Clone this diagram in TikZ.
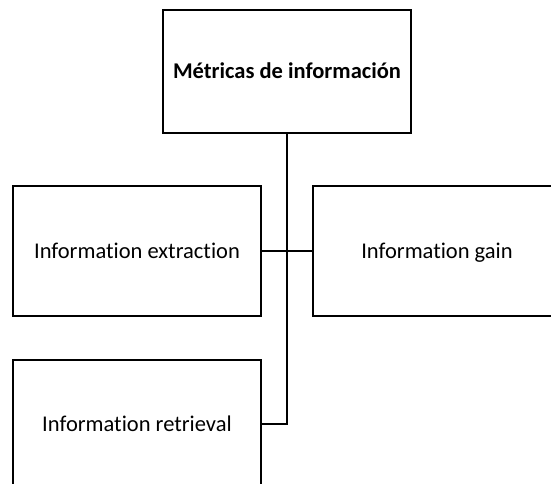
\documentclass[tikz,border=0pt]{standalone}
\usepackage{fontspec}
\setmainfont{Carlito}[Ligatures=NoCommon]
\begin{document}
\begin{tikzpicture}[
    x=1pt, y=-1pt,
    box/.style = {draw, line width=1.4pt, minimum width=248pt, inner sep=0pt,
                  text height=14.5pt, text depth=0pt, font=\fontsize{22.5}{26}\selectfont},
    link/.style = {line width=1.6pt}
]
\useasboundingbox (0,0) rectangle (551,483);
\node[box, minimum height=123pt, font=\fontsize{22.5}{26}\selectfont\bfseries] (metricas) at (287,71.5) {Métricas de información};
\node[box, minimum height=130pt] (extraction) at (137,251) {Information extraction};
\node[box, minimum height=130pt] (gain) at (437,251) {Information gain};
\node[box, minimum height=128pt] (retrieval) at (137,424) {Information retrieval};
\draw[link] (metricas.south) |- (retrieval.east);
\draw[link] (extraction.east) -- (gain.west);
\end{tikzpicture}
\end{document}
